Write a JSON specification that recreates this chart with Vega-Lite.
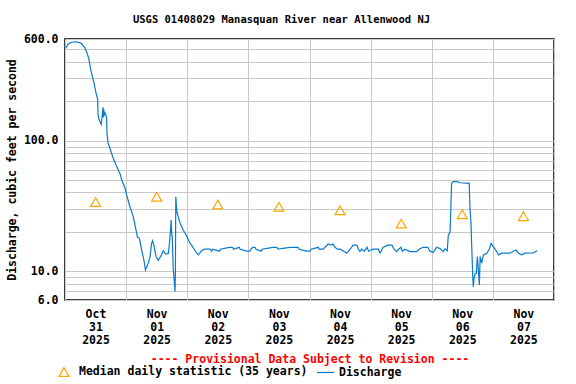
{
 "$schema": "https://vega.github.io/schema/vega-lite/v6.json",
 "width": 489,
 "height": 261,
 "autosize": {"type": "none"},
 "padding": {"left": 65, "top": 39, "right": 22, "bottom": 84},
 "background": "white",
 "config": {
  "font": "DejaVu Sans Mono",
  "view": {"stroke": "black", "strokeWidth": 1.5},
  "axis": {"labelFont": "DejaVu Sans Mono", "labelFontWeight": "bold", "labelFontSize": 11.5, "labelColor": "black", "titleFont": "DejaVu Sans Mono", "titleFontWeight": "bold", "titleFontSize": 11.5, "titleColor": "black", "gridColor": "#c8c8c8", "gridWidth": 1, "gridOpacity": 1, "ticks": false, "domain": false},
  "legend": {"labelFont": "DejaVu Sans Mono", "labelFontWeight": "bold", "labelFontSize": 11.5, "labelColor": "black", "labelLimit": 0}
 },
 "title": {"text": "USGS 01408029 Manasquan River near Allenwood NJ", "font": "DejaVu Sans Mono", "fontSize": 10.5, "fontWeight": "bold", "color": "black", "anchor": "middle", "dx": -28, "offset": 8},
 "datasets": {
  "flow": [
   {"t": "2025-10-31T00:16:00Z", "q": 509, "s": "Discharge"},
   {"t": "2025-10-31T01:11:00Z", "q": 547, "s": "Discharge"},
   {"t": "2025-10-31T02:05:00Z", "q": 562, "s": "Discharge"},
   {"t": "2025-10-31T03:08:00Z", "q": 569, "s": "Discharge"},
   {"t": "2025-10-31T04:30:00Z", "q": 570, "s": "Discharge"},
   {"t": "2025-10-31T05:18:00Z", "q": 566, "s": "Discharge"},
   {"t": "2025-10-31T06:24:00Z", "q": 556, "s": "Discharge"},
   {"t": "2025-10-31T07:44:00Z", "q": 515, "s": "Discharge"},
   {"t": "2025-10-31T08:38:00Z", "q": 471, "s": "Discharge"},
   {"t": "2025-10-31T09:25:00Z", "q": 419, "s": "Discharge"},
   {"t": "2025-10-31T09:56:00Z", "q": 362, "s": "Discharge"},
   {"t": "2025-10-31T10:43:00Z", "q": 312, "s": "Discharge"},
   {"t": "2025-10-31T11:23:00Z", "q": 277, "s": "Discharge"},
   {"t": "2025-10-31T11:54:00Z", "q": 247, "s": "Discharge"},
   {"t": "2025-10-31T12:17:00Z", "q": 226, "s": "Discharge"},
   {"t": "2025-10-31T12:50:00Z", "q": 207, "s": "Discharge"},
   {"t": "2025-10-31T12:57:00Z", "q": 159, "s": "Discharge"},
   {"t": "2025-10-31T13:21:00Z", "q": 145.5, "s": "Discharge"},
   {"t": "2025-10-31T13:52:00Z", "q": 137, "s": "Discharge"},
   {"t": "2025-10-31T14:15:00Z", "q": 133, "s": "Discharge"},
   {"t": "2025-10-31T14:39:00Z", "q": 159, "s": "Discharge"},
   {"t": "2025-10-31T14:55:00Z", "q": 180, "s": "Discharge"},
   {"t": "2025-10-31T15:03:00Z", "q": 150, "s": "Discharge"},
   {"t": "2025-10-31T15:12:00Z", "q": 175, "s": "Discharge"},
   {"t": "2025-10-31T15:18:00Z", "q": 154, "s": "Discharge"},
   {"t": "2025-10-31T15:42:00Z", "q": 163, "s": "Discharge"},
   {"t": "2025-10-31T16:12:00Z", "q": 154, "s": "Discharge"},
   {"t": "2025-10-31T16:21:00Z", "q": 145, "s": "Discharge"},
   {"t": "2025-10-31T16:30:00Z", "q": 111.6, "s": "Discharge"},
   {"t": "2025-10-31T16:54:00Z", "q": 96.3, "s": "Discharge"},
   {"t": "2025-10-31T17:33:00Z", "q": 88, "s": "Discharge"},
   {"t": "2025-10-31T18:12:00Z", "q": 80.7, "s": "Discharge"},
   {"t": "2025-10-31T19:06:00Z", "q": 71.8, "s": "Discharge"},
   {"t": "2025-10-31T19:54:00Z", "q": 65.8, "s": "Discharge"},
   {"t": "2025-10-31T20:48:00Z", "q": 60.2, "s": "Discharge"},
   {"t": "2025-10-31T21:42:00Z", "q": 55.1, "s": "Discharge"},
   {"t": "2025-10-31T22:16:00Z", "q": 49.8, "s": "Discharge"},
   {"t": "2025-10-31T23:34:00Z", "q": 43.1, "s": "Discharge"},
   {"t": "2025-11-01T00:12:00Z", "q": 38.3, "s": "Discharge"},
   {"t": "2025-11-01T01:30:00Z", "q": 31.1, "s": "Discharge"},
   {"t": "2025-11-01T02:48:00Z", "q": 26.1, "s": "Discharge"},
   {"t": "2025-11-01T03:54:00Z", "q": 20.6, "s": "Discharge"},
   {"t": "2025-11-01T04:24:00Z", "q": 18.3, "s": "Discharge"},
   {"t": "2025-11-01T05:12:00Z", "q": 17.8, "s": "Discharge"},
   {"t": "2025-11-01T06:06:00Z", "q": 14.5, "s": "Discharge"},
   {"t": "2025-11-01T07:00:00Z", "q": 12.1, "s": "Discharge"},
   {"t": "2025-11-01T07:36:00Z", "q": 10.2, "s": "Discharge"},
   {"t": "2025-11-01T08:42:00Z", "q": 11.5, "s": "Discharge"},
   {"t": "2025-11-01T09:24:00Z", "q": 12.9, "s": "Discharge"},
   {"t": "2025-11-01T10:00:00Z", "q": 16.3, "s": "Discharge"},
   {"t": "2025-11-01T10:24:00Z", "q": 17.1, "s": "Discharge"},
   {"t": "2025-11-01T10:54:00Z", "q": 15.8, "s": "Discharge"},
   {"t": "2025-11-01T11:42:00Z", "q": 13.0, "s": "Discharge"},
   {"t": "2025-11-01T12:36:00Z", "q": 12.1, "s": "Discharge"},
   {"t": "2025-11-01T13:36:00Z", "q": 13.0, "s": "Discharge"},
   {"t": "2025-11-01T14:36:00Z", "q": 14.3, "s": "Discharge"},
   {"t": "2025-11-01T15:30:00Z", "q": 13.5, "s": "Discharge"},
   {"t": "2025-11-01T16:36:00Z", "q": 13.7, "s": "Discharge"},
   {"t": "2025-11-01T17:12:00Z", "q": 17.8, "s": "Discharge"},
   {"t": "2025-11-01T17:42:00Z", "q": 24.6, "s": "Discharge"},
   {"t": "2025-11-01T17:54:00Z", "q": 19.5, "s": "Discharge"},
   {"t": "2025-11-01T18:06:00Z", "q": 18.3, "s": "Discharge"},
   {"t": "2025-11-01T18:30:00Z", "q": 10.5, "s": "Discharge"},
   {"t": "2025-11-01T19:12:00Z", "q": 6.95, "s": "Discharge"},
   {"t": "2025-11-01T19:21:00Z", "q": 10, "s": "Discharge"},
   {"t": "2025-11-01T19:30:00Z", "q": 37.1, "s": "Discharge"},
   {"t": "2025-11-01T19:54:00Z", "q": 28.5, "s": "Discharge"},
   {"t": "2025-11-01T21:12:00Z", "q": 23.2, "s": "Discharge"},
   {"t": "2025-11-01T22:24:00Z", "q": 20.6, "s": "Discharge"},
   {"t": "2025-11-01T23:48:00Z", "q": 18.5, "s": "Discharge"},
   {"t": "2025-11-02T01:06:00Z", "q": 16.3, "s": "Discharge"},
   {"t": "2025-11-02T01:42:00Z", "q": 15.8, "s": "Discharge"},
   {"t": "2025-11-02T03:42:00Z", "q": 13.7, "s": "Discharge"},
   {"t": "2025-11-02T04:18:00Z", "q": 13.3, "s": "Discharge"},
   {"t": "2025-11-02T05:42:00Z", "q": 14.3, "s": "Discharge"},
   {"t": "2025-11-02T06:36:00Z", "q": 14.7, "s": "Discharge"},
   {"t": "2025-11-02T09:00:00Z", "q": 14.7, "s": "Discharge"},
   {"t": "2025-11-02T09:36:00Z", "q": 14.2, "s": "Discharge"},
   {"t": "2025-11-02T10:00:00Z", "q": 14.7, "s": "Discharge"},
   {"t": "2025-11-02T12:36:00Z", "q": 14.2, "s": "Discharge"},
   {"t": "2025-11-02T13:00:00Z", "q": 14.7, "s": "Discharge"},
   {"t": "2025-11-02T16:30:00Z", "q": 15.2, "s": "Discharge"},
   {"t": "2025-11-02T17:48:00Z", "q": 15.2, "s": "Discharge"},
   {"t": "2025-11-02T18:12:00Z", "q": 14.7, "s": "Discharge"},
   {"t": "2025-11-02T20:24:00Z", "q": 15.2, "s": "Discharge"},
   {"t": "2025-11-02T20:48:00Z", "q": 14.7, "s": "Discharge"},
   {"t": "2025-11-02T23:18:00Z", "q": 14.2, "s": "Discharge"},
   {"t": "2025-11-03T00:36:00Z", "q": 14.2, "s": "Discharge"},
   {"t": "2025-11-03T01:00:00Z", "q": 14.7, "s": "Discharge"},
   {"t": "2025-11-03T01:42:00Z", "q": 15.2, "s": "Discharge"},
   {"t": "2025-11-03T02:36:00Z", "q": 15.2, "s": "Discharge"},
   {"t": "2025-11-03T03:00:00Z", "q": 14.7, "s": "Discharge"},
   {"t": "2025-11-03T05:00:00Z", "q": 14.2, "s": "Discharge"},
   {"t": "2025-11-03T05:24:00Z", "q": 14.7, "s": "Discharge"},
   {"t": "2025-11-03T09:42:00Z", "q": 15.2, "s": "Discharge"},
   {"t": "2025-11-03T11:12:00Z", "q": 15.2, "s": "Discharge"},
   {"t": "2025-11-03T11:36:00Z", "q": 14.7, "s": "Discharge"},
   {"t": "2025-11-03T16:18:00Z", "q": 15.2, "s": "Discharge"},
   {"t": "2025-11-03T19:30:00Z", "q": 15.2, "s": "Discharge"},
   {"t": "2025-11-03T19:54:00Z", "q": 14.7, "s": "Discharge"},
   {"t": "2025-11-03T22:54:00Z", "q": 14.2, "s": "Discharge"},
   {"t": "2025-11-04T00:12:00Z", "q": 14.2, "s": "Discharge"},
   {"t": "2025-11-04T00:36:00Z", "q": 14.7, "s": "Discharge"},
   {"t": "2025-11-04T03:30:00Z", "q": 15.2, "s": "Discharge"},
   {"t": "2025-11-04T03:48:00Z", "q": 14.7, "s": "Discharge"},
   {"t": "2025-11-04T05:18:00Z", "q": 14.7, "s": "Discharge"},
   {"t": "2025-11-04T06:30:00Z", "q": 15.5, "s": "Discharge"},
   {"t": "2025-11-04T07:18:00Z", "q": 16.1, "s": "Discharge"},
   {"t": "2025-11-04T08:24:00Z", "q": 15.8, "s": "Discharge"},
   {"t": "2025-11-04T09:12:00Z", "q": 16.1, "s": "Discharge"},
   {"t": "2025-11-04T10:00:00Z", "q": 15.2, "s": "Discharge"},
   {"t": "2025-11-04T11:00:00Z", "q": 14.7, "s": "Discharge"},
   {"t": "2025-11-04T12:00:00Z", "q": 14.7, "s": "Discharge"},
   {"t": "2025-11-04T13:30:00Z", "q": 14.2, "s": "Discharge"},
   {"t": "2025-11-04T14:36:00Z", "q": 13.7, "s": "Discharge"},
   {"t": "2025-11-04T15:18:00Z", "q": 14.2, "s": "Discharge"},
   {"t": "2025-11-04T16:30:00Z", "q": 15.2, "s": "Discharge"},
   {"t": "2025-11-04T17:06:00Z", "q": 15.8, "s": "Discharge"},
   {"t": "2025-11-04T18:36:00Z", "q": 15.8, "s": "Discharge"},
   {"t": "2025-11-04T19:12:00Z", "q": 14.7, "s": "Discharge"},
   {"t": "2025-11-04T19:48:00Z", "q": 14.1, "s": "Discharge"},
   {"t": "2025-11-04T20:30:00Z", "q": 14.7, "s": "Discharge"},
   {"t": "2025-11-04T21:30:00Z", "q": 14.2, "s": "Discharge"},
   {"t": "2025-11-04T22:36:00Z", "q": 15.2, "s": "Discharge"},
   {"t": "2025-11-04T23:12:00Z", "q": 14.2, "s": "Discharge"},
   {"t": "2025-11-05T00:54:00Z", "q": 14.7, "s": "Discharge"},
   {"t": "2025-11-05T03:00:00Z", "q": 14.7, "s": "Discharge"},
   {"t": "2025-11-05T03:42:00Z", "q": 13.7, "s": "Discharge"},
   {"t": "2025-11-05T04:30:00Z", "q": 14.7, "s": "Discharge"},
   {"t": "2025-11-05T04:54:00Z", "q": 15.2, "s": "Discharge"},
   {"t": "2025-11-05T06:48:00Z", "q": 15.8, "s": "Discharge"},
   {"t": "2025-11-05T08:24:00Z", "q": 15.8, "s": "Discharge"},
   {"t": "2025-11-05T09:12:00Z", "q": 14.7, "s": "Discharge"},
   {"t": "2025-11-05T10:12:00Z", "q": 14.1, "s": "Discharge"},
   {"t": "2025-11-05T11:00:00Z", "q": 14.7, "s": "Discharge"},
   {"t": "2025-11-05T11:54:00Z", "q": 15.2, "s": "Discharge"},
   {"t": "2025-11-05T12:30:00Z", "q": 14.2, "s": "Discharge"},
   {"t": "2025-11-05T13:30:00Z", "q": 14.7, "s": "Discharge"},
   {"t": "2025-11-05T15:30:00Z", "q": 14.1, "s": "Discharge"},
   {"t": "2025-11-05T18:12:00Z", "q": 14.1, "s": "Discharge"},
   {"t": "2025-11-05T19:00:00Z", "q": 14.7, "s": "Discharge"},
   {"t": "2025-11-05T20:36:00Z", "q": 15.2, "s": "Discharge"},
   {"t": "2025-11-05T22:30:00Z", "q": 15.2, "s": "Discharge"},
   {"t": "2025-11-05T23:18:00Z", "q": 14.2, "s": "Discharge"},
   {"t": "2025-11-06T00:36:00Z", "q": 13.9, "s": "Discharge"},
   {"t": "2025-11-06T01:54:00Z", "q": 15.2, "s": "Discharge"},
   {"t": "2025-11-06T03:12:00Z", "q": 14.9, "s": "Discharge"},
   {"t": "2025-11-06T04:30:00Z", "q": 14.1, "s": "Discharge"},
   {"t": "2025-11-06T05:12:00Z", "q": 14.8, "s": "Discharge"},
   {"t": "2025-11-06T06:06:00Z", "q": 14.3, "s": "Discharge"},
   {"t": "2025-11-06T06:30:00Z", "q": 18.9, "s": "Discharge"},
   {"t": "2025-11-06T07:00:00Z", "q": 19.5, "s": "Discharge"},
   {"t": "2025-11-06T07:12:00Z", "q": 20.0, "s": "Discharge"},
   {"t": "2025-11-06T07:24:00Z", "q": 26.9, "s": "Discharge"},
   {"t": "2025-11-06T07:48:00Z", "q": 47.0, "s": "Discharge"},
   {"t": "2025-11-06T08:30:00Z", "q": 48.4, "s": "Discharge"},
   {"t": "2025-11-06T09:48:00Z", "q": 48.4, "s": "Discharge"},
   {"t": "2025-11-06T11:06:00Z", "q": 47.5, "s": "Discharge"},
   {"t": "2025-11-06T14:42:00Z", "q": 47.0, "s": "Discharge"},
   {"t": "2025-11-06T15:00:00Z", "q": 30.2, "s": "Discharge"},
   {"t": "2025-11-06T15:24:00Z", "q": 23.5, "s": "Discharge"},
   {"t": "2025-11-06T15:42:00Z", "q": 15.4, "s": "Discharge"},
   {"t": "2025-11-06T16:06:00Z", "q": 9.05, "s": "Discharge"},
   {"t": "2025-11-06T16:18:00Z", "q": 7.59, "s": "Discharge"},
   {"t": "2025-11-06T16:42:00Z", "q": 9.05, "s": "Discharge"},
   {"t": "2025-11-06T17:00:00Z", "q": 9.5, "s": "Discharge"},
   {"t": "2025-11-06T17:30:00Z", "q": 9.6, "s": "Discharge"},
   {"t": "2025-11-06T17:54:00Z", "q": 12.9, "s": "Discharge"},
   {"t": "2025-11-06T18:18:00Z", "q": 10.2, "s": "Discharge"},
   {"t": "2025-11-06T18:42:00Z", "q": 7.82, "s": "Discharge"},
   {"t": "2025-11-06T19:00:00Z", "q": 12.9, "s": "Discharge"},
   {"t": "2025-11-06T19:36:00Z", "q": 11.5, "s": "Discharge"},
   {"t": "2025-11-06T20:18:00Z", "q": 13.3, "s": "Discharge"},
   {"t": "2025-11-06T21:36:00Z", "q": 13.7, "s": "Discharge"},
   {"t": "2025-11-06T22:36:00Z", "q": 14.7, "s": "Discharge"},
   {"t": "2025-11-06T23:18:00Z", "q": 16.3, "s": "Discharge"},
   {"t": "2025-11-07T00:12:00Z", "q": 15.4, "s": "Discharge"},
   {"t": "2025-11-07T01:30:00Z", "q": 14.1, "s": "Discharge"},
   {"t": "2025-11-07T02:12:00Z", "q": 13.3, "s": "Discharge"},
   {"t": "2025-11-07T03:30:00Z", "q": 13.7, "s": "Discharge"},
   {"t": "2025-11-07T06:42:00Z", "q": 13.7, "s": "Discharge"},
   {"t": "2025-11-07T09:06:00Z", "q": 14.5, "s": "Discharge"},
   {"t": "2025-11-07T10:00:00Z", "q": 13.7, "s": "Discharge"},
   {"t": "2025-11-07T11:18:00Z", "q": 13.3, "s": "Discharge"},
   {"t": "2025-11-07T12:36:00Z", "q": 13.7, "s": "Discharge"},
   {"t": "2025-11-07T15:54:00Z", "q": 13.8, "s": "Discharge"},
   {"t": "2025-11-07T17:24:00Z", "q": 14.3, "s": "Discharge"}
  ],
  "median": [
   {"t": "2025-10-31T12:00:00Z", "q": 33.8, "s": "Median daily statistic (35 years)"},
   {"t": "2025-11-01T12:00:00Z", "q": 37.1, "s": "Median daily statistic (35 years)"},
   {"t": "2025-11-02T12:00:00Z", "q": 32.3, "s": "Median daily statistic (35 years)"},
   {"t": "2025-11-03T12:00:00Z", "q": 31.1, "s": "Median daily statistic (35 years)"},
   {"t": "2025-11-04T12:00:00Z", "q": 29.2, "s": "Median daily statistic (35 years)"},
   {"t": "2025-11-05T12:00:00Z", "q": 23.1, "s": "Median daily statistic (35 years)"},
   {"t": "2025-11-06T12:00:00Z", "q": 27.2, "s": "Median daily statistic (35 years)"},
   {"t": "2025-11-07T12:00:00Z", "q": 26.3, "s": "Median daily statistic (35 years)"}
  ]
 },
 "layer": [
  {
   "data": {"name": "flow"},
   "mark": {"type": "line", "strokeWidth": 1.2, "clip": true},
   "encoding": {
    "x": {"field": "t", "type": "temporal",
     "scale": {"type": "utc", "nice": false, "domain": [{"year": 2025, "month": 10, "date": 31, "utc": true}, {"year": 2025, "month": 11, "date": 8, "utc": true}]},
     "axis": {
      "title": "---- Provisional Data Subject to Revision ----",
      "titleColor": "#ff0000",
      "titlePadding": 7,
      "values": [
       {"year": 2025, "month": 10, "date": 31, "utc": true},
       {"year": 2025, "month": 11, "date": 1, "utc": true},
       {"year": 2025, "month": 11, "date": 2, "utc": true},
       {"year": 2025, "month": 11, "date": 3, "utc": true},
       {"year": 2025, "month": 11, "date": 4, "utc": true},
       {"year": 2025, "month": 11, "date": 5, "utc": true},
       {"year": 2025, "month": 11, "date": 6, "utc": true},
       {"year": 2025, "month": 11, "date": 7, "utc": true},
       {"year": 2025, "month": 11, "date": 8, "utc": true}
      ],
      "grid": true,
      "labelOffset": 30.5,
      "labelPadding": 8,
      "labelFlush": false,
      "labelOverlap": false,
      "labelBound": false,
      "labelAlign": "center",
      "labelBaseline": "top",
      "labelLineHeight": 13.3,
      "labelExpr": "utcdate(datum.value) == 8 ? '' : [utcFormat(datum.value, '%b'), utcFormat(datum.value, '%d'), utcFormat(datum.value, '%Y')]"
     }
    },
    "y": {"field": "q", "type": "quantitative",
     "scale": {"type": "log", "domain": [6, 600], "nice": false, "zero": false},
     "axis": {
      "title": "Discharge, cubic feet per second",
      "titlePadding": 6,
      "values": [6, 7, 8, 9, 10, 20, 30, 40, 50, 60, 70, 80, 90, 100, 200, 300, 400, 500, 600],
      "grid": true,
      "labelPadding": 7,
      "labelOverlap": false,
      "labelFlush": false,
      "labelExpr": "indexof([6, 10, 100, 600], datum.value) >= 0 ? format(datum.value, '.1f') : ''"
     }
    },
    "color": {"field": "s", "type": "nominal",
     "scale": {"domain": ["Discharge"], "range": ["#0a7acc"]},
     "legend": {"title": null, "orient": "none", "legendX": 251, "legendY": 324, "direction": "horizontal", "symbolType": "stroke", "symbolSize": 289, "symbolStrokeWidth": 1.2, "labelOffset": 4}
    }
   }
  },
  {
   "data": {"name": "median"},
   "mark": {"type": "point", "shape": "triangle-up", "filled": false, "size": 100, "color": "#ffa500", "strokeWidth": 1.2, "opacity": 1},
   "encoding": {
    "x": {"field": "t", "type": "temporal"},
    "y": {"field": "q", "type": "quantitative"},
    "shape": {"field": "s", "type": "nominal",
     "scale": {"domain": ["Median daily statistic (35 years)"], "range": ["triangle-up"]},
     "legend": {"title": null, "orient": "none", "legendX": -7, "legendY": 327, "direction": "horizontal", "symbolSize": 100, "symbolStrokeColor": "#ffa500", "symbolFillColor": "transparent", "symbolStrokeWidth": 1.2, "symbolOpacity": 1, "labelOffset": 9}
    }
   }
  }
 ]
}
